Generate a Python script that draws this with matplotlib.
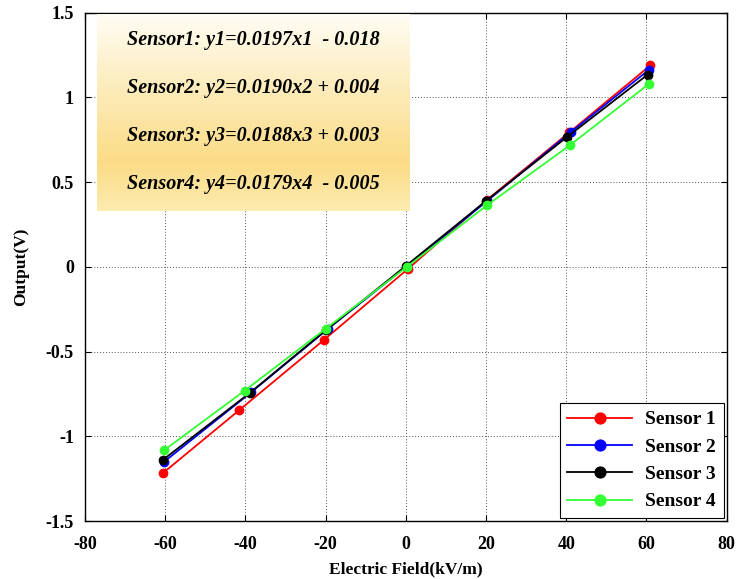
import numpy as np
import matplotlib.pyplot as plt
from matplotlib.colors import LinearSegmentedColormap

plt.rcParams['font.family'] = ['Liberation Serif', 'DejaVu Serif']
plt.rcParams['font.weight'] = 'bold'
plt.rcParams['axes.unicode_minus'] = False

# values
x1 = [-60.5, -41.6, -20.4, 0.5, 20.2, 40.8, 61.0]
y1 = [-1.215, -0.846, -0.43, -0.012, 0.395, 0.795, 1.19]
x2 = [-60.3, -38.6, -19.4, 0.2, 20.3, 41.1, 60.7]
y2 = [-1.15, -0.74, -0.365, 0.004, 0.39, 0.795, 1.165]
x3 = [-60.5, -39.0, -19.8, 0.0, 20.0, 40.1, 60.3]
y3 = [-1.137, -0.745, -0.37, 0.006, 0.39, 0.765, 1.135]
x4 = [-60.2, -40.2, -20.0, 0.2, 20.3, 41.0, 60.6]
y4 = [-1.08, -0.73, -0.365, 0.0, 0.365, 0.72, 1.08]

series = [("Sensor 1", x1, y1, "#ff0000"),
          ("Sensor 2", x2, y2, "#0000ff"),
          ("Sensor 3", x3, y3, "#000000"),
          ("Sensor 4", x4, y4, "#33ff33")]

equations = ["Sensor1: y1=0.0197x1  - 0.018",
             "Sensor2: y2=0.0190x2 + 0.004",
             "Sensor3: y3=0.0188x3 + 0.003",
             "Sensor4: y4=0.0179x4  - 0.005"]

fig = plt.figure(figsize=(7.4, 5.79), dpi=100)
ax = fig.add_axes([0.115, 0.100, 0.867, 0.878])

for name, xs, ys, c in series:
    ax.plot(xs, ys, color=c, lw=1.3, marker='o', ms=6, label=name, zorder=3)

ax.set_xlim(-80, 80)
ax.set_ylim(-1.5, 1.5)
ax.set_xticks(np.arange(-80, 81, 20))
ax.set_yticks([-1.5, -1, -0.5, 0, 0.5, 1, 1.5])
ax.set_yticklabels(['-1.5', '-1', '-0.5', '0', '0.5', '1', '1.5'])
ax.grid(True, color='#555555', ls=(0, (1, 2)), lw=0.7)
ax.tick_params(direction='in', top=True, right=True, labelsize=13, length=4)
ax.tick_params(axis='x', pad=11)
ax.tick_params(axis='y', pad=8)
for s in ax.spines.values():
    s.set_linewidth(1.0)
ax.set_xlabel('Electric Field(kV/m)', fontsize=12.5, fontweight='bold', labelpad=6)
ax.set_ylabel('Output(V)', fontsize=12.5, fontweight='bold', labelpad=12)

# gradient box with equations
cmap = LinearSegmentedColormap.from_list(
    'gold', [(0.0, '#fdebb0'), (0.25, '#fbdc86'), (0.7, '#fdefc6'), (1.0, '#fffdf5')])
grad = np.linspace(0, 1, 256).reshape(-1, 1)
ax.imshow(grad, cmap=cmap, aspect='auto', extent=[0.019, 0.506, 0.610, 0.996],
          transform=ax.transAxes, origin='lower', zorder=4)
for i, t in enumerate(equations):
    ax.text(0.066, 0.947 - i * 0.0945, t, transform=ax.transAxes, fontsize=14.5,
            fontweight='bold', style='italic', va='center', ha='left', zorder=5)

leg = ax.legend(loc='lower right', fontsize=14, frameon=True, fancybox=False,
                edgecolor='black', framealpha=1, handlelength=3.3, markerscale=1.3,
                borderpad=0.4, labelspacing=0.5, borderaxespad=0.15, handletextpad=0.7)
leg.get_frame().set_linewidth(0.8)

fig.savefig('out.png', dpi=100)
